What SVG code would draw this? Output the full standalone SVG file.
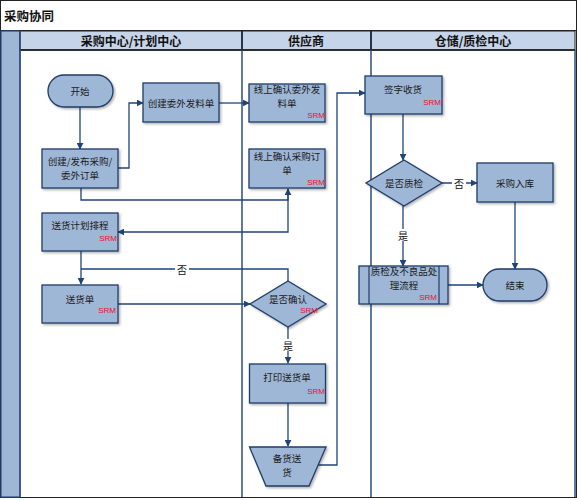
<svg xmlns="http://www.w3.org/2000/svg" width="577" height="500" viewBox="0 0 577 500">
<style>
.box{fill:#9fb7d7;stroke:#1f3c68;stroke-width:1.3}
.ln{fill:none;stroke:#1f4478;stroke-width:1.3}
.lane{stroke:#2a4d80;stroke-width:1.5;fill:none}
.t{font-family:"Noto Sans CJK SC","Noto Sans",sans-serif;font-size:9.5px;fill:#1a1a1a;text-anchor:middle;dominant-baseline:central}
.srm{font-family:"Liberation Sans",Arial,sans-serif;font-size:8px;fill:#e8102a;text-anchor:end;dominant-baseline:central}
.h{font-family:"Noto Sans CJK SC",sans-serif;font-size:12px;font-weight:bold;fill:#111;text-anchor:middle;dominant-baseline:central}
.lbl{font-family:"Noto Sans CJK SC",sans-serif;font-size:10px;fill:#111;text-anchor:middle;dominant-baseline:central}
.sh{filter:url(#s)}
</style>
<defs>
<marker id="a" viewBox="0 0 10 10" refX="9" refY="5" markerWidth="7" markerHeight="7" orient="auto" markerUnits="userSpaceOnUse">
<path d="M0,0 L10,5 L0,10 z" fill="#1f4478"/>
</marker>
<filter id="s" x="-10%" y="-10%" width="130%" height="140%">
<feDropShadow dx="1.5" dy="1.5" stdDeviation="0.8" flood-color="#000" flood-opacity="0.3"/>
</filter>
</defs>
<rect x="0" y="0" width="577" height="500" fill="#fff"/>
<g id="frame">
<rect x="0.5" y="0.5" width="576" height="497" fill="#fff" stroke="#222" stroke-width="1"/>
<text x="4" y="15" font-family="Noto Sans CJK SC,sans-serif" font-size="12.5" font-weight="bold" fill="#111" dominant-baseline="central">采购协同</text>
<line x1="0" y1="30.5" x2="577" y2="30.5" stroke="#222" stroke-width="1.2"/>
<rect x="1" y="31" width="19" height="466" fill="#9fb7d6" stroke="#2a4d80" stroke-width="1.2"/>
<rect x="20" y="31" width="555" height="19" fill="#c5d4e8" stroke="#222" stroke-width="1"/>
<line x1="20" y1="50" x2="575" y2="50" stroke="#111" stroke-width="1.5"/>
<line class="lane" x1="20" y1="31" x2="20" y2="497"/>
<line class="lane" x1="242" y1="31" x2="242" y2="497"/>
<line class="lane" x1="371" y1="31" x2="371" y2="497"/>
<line class="lane" x1="575" y1="50" x2="575" y2="497"/>
<line x1="242" y1="31" x2="242" y2="50" stroke="#111" stroke-width="1.2"/>
<line x1="371" y1="31" x2="371" y2="50" stroke="#111" stroke-width="1.2"/>
<text class="h" x="131" y="40.5">采购中心/计划中心</text>
<text class="h" x="306" y="40.5">供应商</text>
<text class="h" x="473" y="40.5">仓储/质检中心</text>
</g>
<g id="connectors">
<path class="ln" d="M80,107 V149" marker-end="url(#a)"/>
<path class="ln" d="M118,168 H129 V103 H143" marker-end="url(#a)"/>
<path class="ln" d="M219,103 H249" marker-end="url(#a)"/>
<path class="ln" d="M81,188 V200 H288 V189" marker-end="url(#a)"/>
<path class="ln" d="M288,189 V232 H118" marker-end="url(#a)"/>
<path class="ln" d="M81,251 V284" marker-end="url(#a)"/>
<path class="ln" d="M288,281 V269 H81"/>
<path class="ln" d="M118,304 H250" marker-end="url(#a)"/>
<path class="ln" d="M288,327 V363" marker-end="url(#a)"/>
<path class="ln" d="M288,403 V446" marker-end="url(#a)"/>
<path class="ln" d="M318,465 H337 V93 H365" marker-end="url(#a)"/>
<path class="ln" d="M403,114 V160" marker-end="url(#a)"/>
<path class="ln" d="M442,183 H477" marker-end="url(#a)"/>
<path class="ln" d="M403,205 V266" marker-end="url(#a)"/>
<path class="ln" d="M448,285 H483" marker-end="url(#a)"/>
<path class="ln" d="M515,202 V269" marker-end="url(#a)"/>
<rect x="175" y="263" width="14" height="12" fill="#fff"/>
<text class="lbl" x="182" y="269">否</text>
<rect x="281" y="339" width="14" height="12" fill="#fff"/>
<text class="lbl" x="288" y="345">是</text>
<rect x="452" y="177" width="14" height="12" fill="#fff"/>
<text class="lbl" x="459" y="183">否</text>
<rect x="396" y="229" width="14" height="12" fill="#fff"/>
<text class="lbl" x="403" y="235">是</text>
</g>
<g id="start">
<rect class="box sh" x="48" y="75" width="65" height="32" rx="16" ry="16"/>
<text class="t" x="80" y="91">开始</text>
</g>
<g id="create-order">
<rect class="box sh" x="42" y="149" width="76" height="39"/>
<text class="t" x="80" y="161">创建/发布采购/</text>
<text class="t" x="80" y="175">委外订单</text>
</g>
<g id="create-issue">
<rect class="box sh" x="143" y="83" width="76" height="39"/>
<text class="t" x="181" y="103">创建委外发料单</text>
</g>
<g id="confirm-issue">
<rect class="box sh" x="249" y="84" width="76" height="38"/>
<text class="t" x="287" y="89">线上确认委外发</text>
<text class="t" x="287" y="103">料单</text>
<text class="srm" x="325" y="115.5">SRM</text>
</g>
<g id="confirm-order">
<rect class="box sh" x="249" y="149" width="76" height="39"/>
<text class="t" x="287" y="156">线上确认采购订</text>
<text class="t" x="287" y="170">单</text>
<text class="srm" x="325" y="182">SRM</text>
</g>
<g id="schedule">
<rect class="box sh" x="42" y="213" width="76" height="38"/>
<text class="t" x="80" y="225">送货计划排程</text>
<text class="srm" x="117" y="238">SRM</text>
</g>
<g id="delivery-note">
<rect class="box sh" x="42" y="285" width="76" height="38"/>
<text class="t" x="80" y="299">送货单</text>
<text class="srm" x="116" y="310">SRM</text>
</g>
<g id="confirm">
<path class="box sh" d="M288,281 L326,304 L288,327 L250,304 Z"/>
<text class="t" x="288" y="299">是否确认</text>
<text class="srm" x="318" y="310">SRM</text>
</g>
<g id="print">
<rect class="box sh" x="249.5" y="364" width="76" height="39"/>
<text class="t" x="287" y="377">打印送货单</text>
<text class="srm" x="325" y="391">SRM</text>
</g>
<g id="ship">
<path class="box sh" d="M249.5,447 L326,447 L309,486 L266,486 Z"/>
<text class="t" x="287" y="458">备货送</text>
<text class="t" x="287" y="472">货</text>
</g>
<g id="receive">
<rect class="box sh" x="365" y="76" width="77" height="38"/>
<text class="t" x="403" y="89">签字收货</text>
<text class="srm" x="441" y="102">SRM</text>
</g>
<g id="qc-decision">
<path class="box sh" d="M404,160 L442,183 L404,206 L366,183 Z"/>
<text class="t" x="404" y="183">是否质检</text>
</g>
<g id="stock-in">
<rect class="box sh" x="477" y="163" width="76" height="39"/>
<text class="t" x="515" y="183">采购入库</text>
</g>
<g id="qc-process">
<rect class="box sh" x="359" y="266" width="89" height="38"/>
<line x1="369" y1="266" x2="369" y2="304" stroke="#1f3c68" stroke-width="1.2"/>
<line x1="439" y1="266" x2="439" y2="304" stroke="#1f3c68" stroke-width="1.2"/>
<text class="t" x="404" y="271">质检及不良品处</text>
<text class="t" x="404" y="285">理流程</text>
<text class="srm" x="437" y="297">SRM</text>
</g>
<g id="end">
<rect class="box sh" x="483" y="269" width="64" height="32" rx="16" ry="16"/>
<text class="t" x="515" y="285">结束</text>
</g>
</svg>
